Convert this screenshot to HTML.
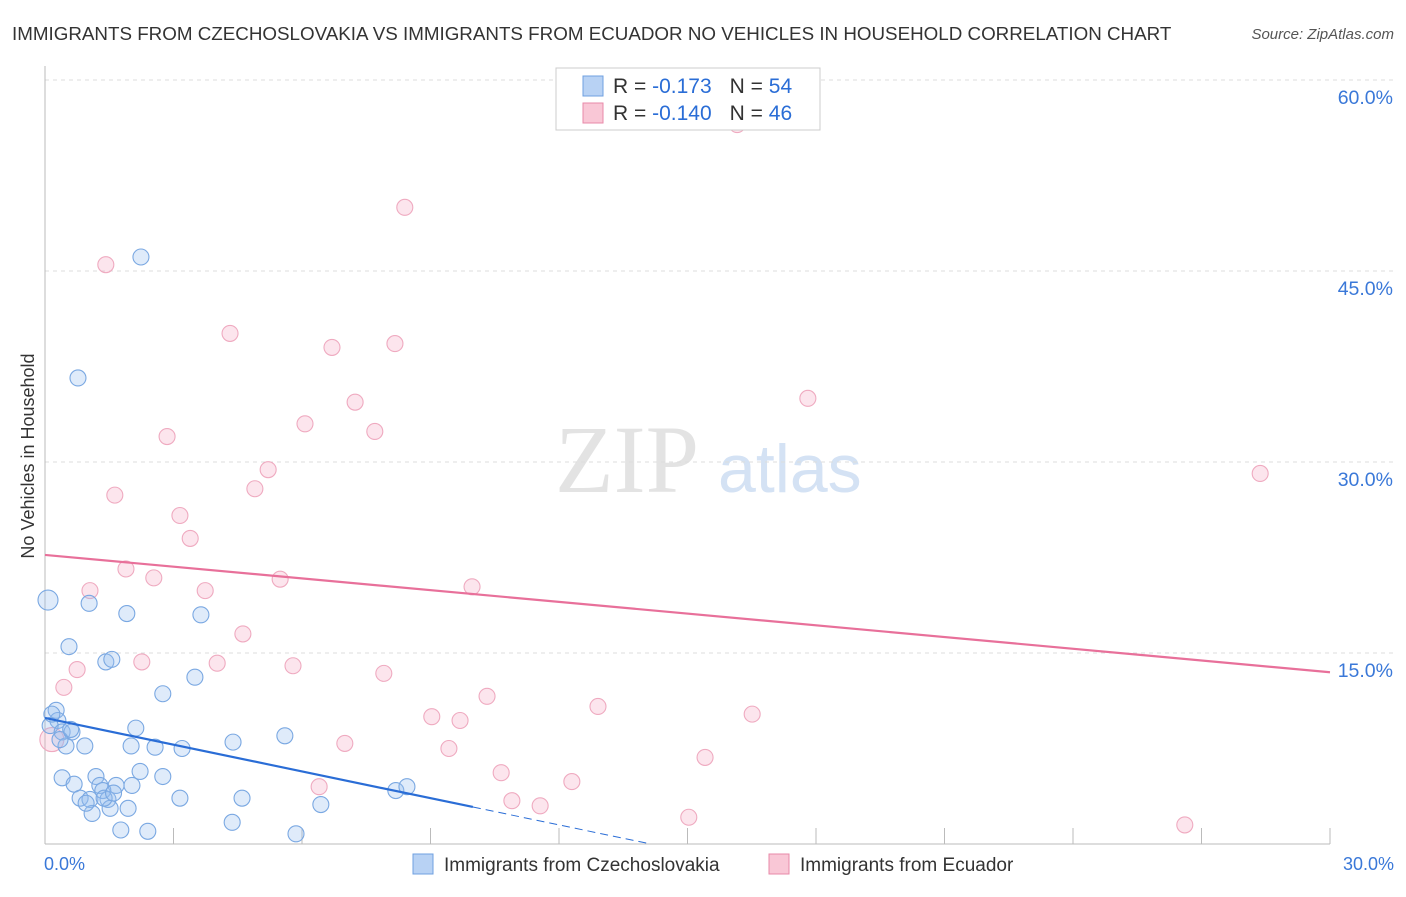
<!DOCTYPE html>
<html><head><meta charset="utf-8">
<style>
body{margin:0;background:#fff;font-family:"Liberation Sans",sans-serif;}
svg text{font-family:"Liberation Sans",sans-serif;}
</style></head>
<body>
<svg id="chart" width="1406" height="892" xmlns="http://www.w3.org/2000/svg">
<text x="12" y="40" font-size="18.8" fill="#333">IMMIGRANTS FROM CZECHOSLOVAKIA VS IMMIGRANTS FROM ECUADOR NO VEHICLES IN HOUSEHOLD CORRELATION CHART</text>
<text x="1394" y="39" font-size="15" fill="#555" font-style="italic" text-anchor="end">Source: ZipAtlas.com</text>
<text transform="translate(34,456) rotate(-90)" font-size="18" fill="#333" text-anchor="middle">No Vehicles in Household</text>
<text x="555" y="492" font-size="96" fill="#e3e3e3" style="font-family:'Liberation Serif',serif">ZIP</text>
<text x="718" y="492" font-size="68" fill="#d4e2f4">atlas</text>
<g id="grid"></g><g id="pts"></g><g id="lines"></g>
<g>
<rect x="556" y="68" width="264" height="62" fill="#fff" stroke="#ccc"/>
<rect x="583" y="76" width="20" height="20" fill="#b8d2f4" stroke="#6fa0e0"/>
<rect x="583" y="103" width="20" height="20" fill="#f9c7d6" stroke="#e88aa8"/>
<text x="613" y="93" font-size="21" fill="#333">R = <tspan fill="#2a6dd6"> -0.173</tspan><tspan dx="18" fill="#333">N = </tspan><tspan fill="#2a6dd6">54</tspan></text>
<text x="613" y="120" font-size="21" fill="#333">R = <tspan fill="#2a6dd6">-0.140</tspan><tspan dx="18" fill="#333">N = </tspan><tspan fill="#2a6dd6">46</tspan></text>
</g>
<g>
<rect x="413" y="854" width="20" height="20" fill="#b8d2f4" stroke="#6fa0e0"/>
<text x="444" y="871" font-size="19" fill="#333">Immigrants from Czechoslovakia</text>
<rect x="769" y="854" width="20" height="20" fill="#f9c7d6" stroke="#e88aa8"/>
<text x="800" y="871" font-size="19" fill="#333">Immigrants from Ecuador</text>
</g>
</svg>
<script>
const xTicks=[0,3,6,9,12,15,18,21,24,27,30];
const yTicks=[15,30,45,60];
const yTickLabels=["15.0%","30.0%","45.0%","60.0%"];
const xEndLabels=["0.0%","30.0%"];
const blueX=[0.07,0.77,2.24,1.03,1.91,0.56,3.64,1.42,1.56,3.50,2.75,0.26,0.30,0.12,0.40,0.63,0.49,0.93,2.12,2.01,2.57,3.20,4.39,5.60,2.22,2.75,0.40,0.68,1.19,1.28,1.66,1.35,2.03,0.82,1.05,1.47,1.94,3.15,4.60,6.44,8.19,8.45,1.10,1.52,1.77,2.40,4.37,5.86,0.96,1.38,0.16,0.35,0.60,1.60];
const blueY=[19.16,36.6,46.1,18.9,18.1,15.5,18.0,14.3,14.5,13.1,11.8,10.5,9.7,9.3,8.8,8.8,7.7,7.7,9.1,7.7,7.6,7.5,8.0,8.5,5.7,5.3,5.2,4.7,5.3,4.6,4.6,4.2,4.6,3.6,3.5,3.5,2.8,3.6,3.6,3.1,4.2,4.5,2.4,2.8,1.1,1.0,1.7,0.8,3.2,3.6,10.2,8.2,9.0,4.0];
const pinkX=[16.16,8.40,1.42,4.32,6.70,8.17,7.24,17.81,6.07,7.70,2.85,5.21,4.90,1.63,3.15,3.39,28.37,1.89,2.54,5.49,9.97,1.05,3.74,4.62,2.26,4.02,5.79,0.75,7.91,0.44,10.32,12.91,16.51,9.03,9.69,0.16,7.00,9.43,15.41,10.65,12.30,6.40,10.90,11.56,15.03,26.61];
const pinkY=[56.5,50.0,45.5,40.1,39.0,39.3,34.7,35.0,33.0,32.4,32.0,29.4,27.9,27.4,25.8,24.0,29.1,21.6,20.9,20.8,20.2,19.9,19.9,16.5,14.3,14.2,14.0,13.7,13.4,12.3,11.6,10.8,10.2,10.0,9.7,8.2,7.9,7.5,6.8,5.6,4.9,4.5,3.4,3.0,2.1,1.5];
const blueFit=[9.9,-0.70];
const pinkFit=[22.7,-0.307];
const X=v=>45+v*1285/30, Y=v=>844-v*12.733;
const NS="http://www.w3.org/2000/svg";
function mk(t,a,p){const e=document.createElementNS(NS,t);for(const k in a)e.setAttribute(k,a[k]);p.appendChild(e);return e;}
const g=document.getElementById('grid');
yTicks.forEach((v,i)=>{
 const l=mk('line',{x1:45,x2:1394,y1:Y(v),y2:Y(v),stroke:'#ddd','stroke-dasharray':'4,4'},g);
 
 
 const t=mk('text',{x:1393,y:Y(v)+24,'font-size':19.5,fill:'#3a78d8','text-anchor':'end'},g);t.textContent=yTickLabels[i];
 
 
});
mk('line',{x1:45,x2:45,y1:66,y2:844,stroke:'#bbb'},g);
mk('line',{x1:45,x2:1330,y1:844,y2:844,stroke:'#bbb'},g);
xTicks.forEach(v=>{const l=mk('line',{x1:X(v),x2:X(v),y1:828,y2:844,stroke:'#bbb'},g);
 
 });
[[0,'start',44],[30,'end',1394]].forEach((d,i)=>{const t=mk('text',{x:d[2],y:870,'font-size':18,fill:'#3a78d8','text-anchor':d[1]},g);t.textContent=xEndLabels[i];
 
 });
const p=document.getElementById('pts');
pinkX.forEach((x,i)=>{const r=(x<0.3&&pinkY[i]<9)?12:8;const c=mk('circle',{cx:X(x),cy:Y(pinkY[i]),r:r,fill:'rgba(245,170,195,0.3)',stroke:'#efaac0','stroke-width':1.1},p);
 
 });
blueX.forEach((x,i)=>{const r=(x<0.1)?10:8;const c=mk('circle',{cx:X(x),cy:Y(blueY[i]),r:r,fill:'rgba(150,190,240,0.3)',stroke:'#7aa8e2','stroke-width':1.1},p);
 
 });
const L=document.getElementById('lines');
const pl=mk('line',{x1:X(0),y1:Y(pinkFit[0]),x2:X(30),y2:Y(pinkFit[0]+pinkFit[1]*30),stroke:'#e8709a','stroke-width':2.2},L);


const bx=9.99, bz=-blueFit[0]/blueFit[1];
const bl=mk('line',{x1:X(0),y1:Y(blueFit[0]),x2:X(bx),y2:Y(blueFit[0]+blueFit[1]*bx),stroke:'#2a6dd6','stroke-width':2.2},L);


const bd=mk('line',{x1:X(bx),y1:Y(blueFit[0]+blueFit[1]*bx),x2:X(bz),y2:Y(0),stroke:'#2a6dd6','stroke-width':1,'stroke-dasharray':'8,5'},L);


</script>
</body></html>
